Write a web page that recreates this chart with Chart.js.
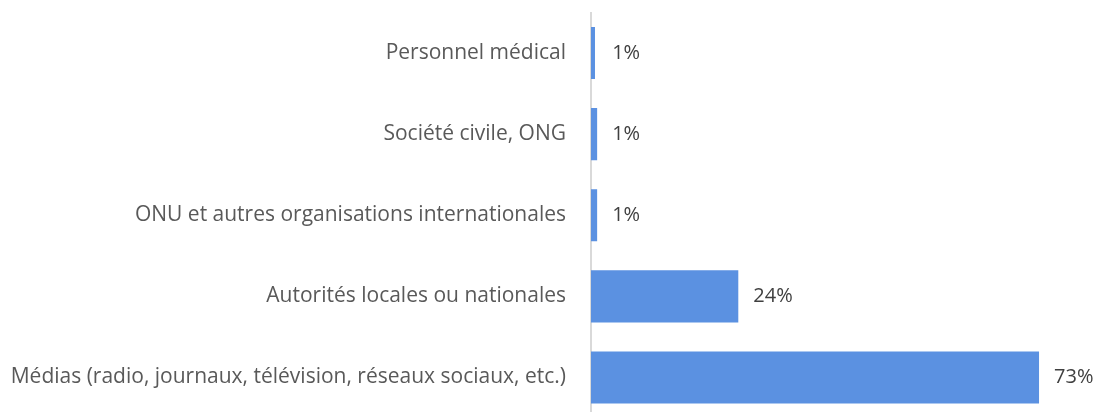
<!DOCTYPE html>
<html lang="fr">
<head>
    <meta charset="UTF-8">
    <title>Sources d'information</title>
    <script src="https://cdn.jsdelivr.net/npm/chart.js"></script>
    <style>
        body {
            margin: 0;
            padding: 0;
            background: #fff;
            overflow: hidden;
        }
        canvas {
            display: block;
        }
    </style>
</head>
<body>
    <canvas id="chart" width="1099" height="418"></canvas>
    <script>
        const categories = [
            'Personnel médical',
            'Société civile, ONG',
            'ONU et autres organisations internationales',
            'Autorités locales ou nationales',
            'Médias (radio, journaux, télévision, réseaux sociaux, etc.)'
        ];
        const values = [0.65, 1, 1, 24, 73];
        const valueLabels = ['1%', '1%', '1%', '24%', '73%'];

        const fontFamily = '"Open Sans", Lato, sans-serif';

        // draws the % next to each bar
        const barLabels = {
            id: 'barLabels',
            afterDatasetsDraw(chart) {
                const ctx = chart.ctx;
                const meta = chart.getDatasetMeta(0);
                ctx.save();
                ctx.font = '20px ' + fontFamily;
                ctx.fillStyle = '#404040';
                ctx.textAlign = 'left';
                ctx.textBaseline = 'middle';
                meta.data.forEach((bar, i) => {
                    const x = Math.max(bar.x, chart.scales.x.getPixelForValue(1));
                    ctx.fillText(valueLabels[i], x + 15, bar.y);
                });
                ctx.restore();
            }
        };

        new Chart(document.getElementById('chart'), {
            type: 'bar',
            data: {
                labels: categories,
                datasets: [{
                    data: values,
                    backgroundColor: '#5B91E1',
                    borderWidth: 0,
                    barPercentage: 0.642,
                    categoryPercentage: 1
                }]
            },
            options: {
                indexAxis: 'y',
                responsive: false,
                animation: false,
                layout: { padding: { top: 12.5, right: 17, left: 0, bottom: 0 } },
                plugins: {
                    legend: { display: false },
                    tooltip: { enabled: false }
                },
                scales: {
                    x: {
                        display: false,
                        min: 0,
                        max: 80
                    },
                    y: {
                        afterFit(scale) {
                            scale.width = 591;
                            scale.paddingTop = 0;
                            scale.paddingBottom = 0;
                        },
                        grid: { display: false, drawTicks: false },
                        border: { display: true, color: '#D9D9D9', width: 2 },
                        ticks: {
                            padding: 25,
                            color: '#595959',
                            font: { family: fontFamily, size: 21 }
                        }
                    }
                }
            },
            plugins: [barLabels]
        });
    </script>
</body>
</html>
